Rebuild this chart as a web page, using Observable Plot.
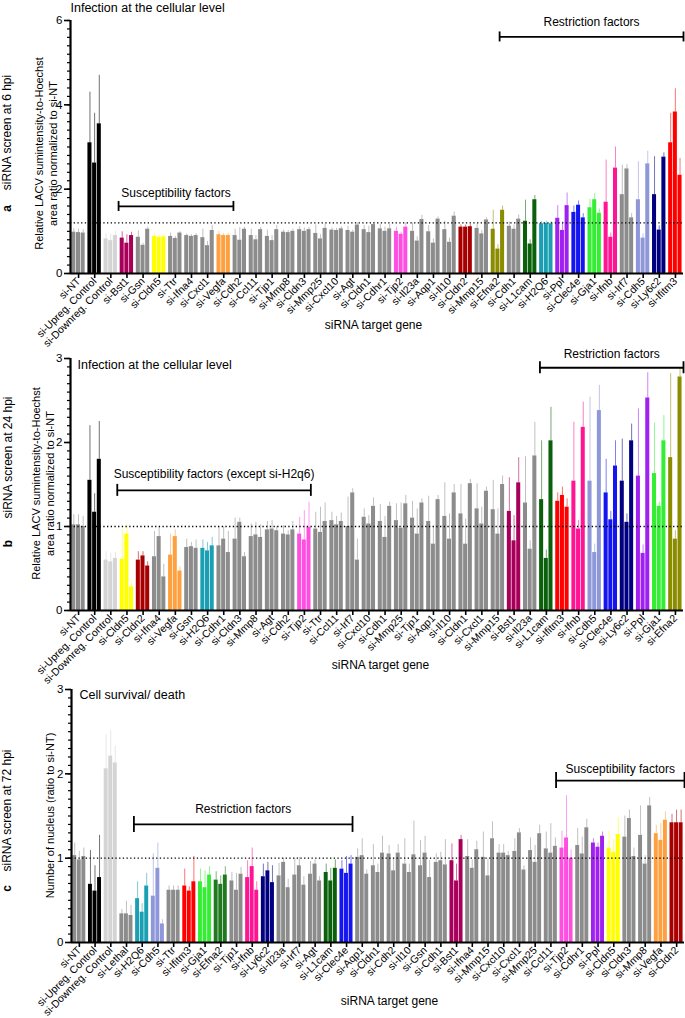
<!DOCTYPE html>
<html><head><meta charset="utf-8">
<script src="https://cdn.jsdelivr.net/npm/d3@7"></script>
<script src="https://cdn.jsdelivr.net/npm/@observablehq/plot@0.6"></script>
<style>
body{margin:0;background:#fff;}
#chart svg{display:block;}
</style></head><body><div id="chart"></div>
<script>
// ---------- Panel a: 6 hpi ----------
const genesA = ["si-NT","si-Upreg. Control","si-Downreg. Control","si-Bst1","si-Gsn","si-Cldn5","si-Ttr","si-Ifna4","si-Cxcl1","si-Vegfa","si-Cdh2","si-Ccl11","si-Tjp1","si-Mmp8","si-Cldn3","si-Mmp25","si-Cxcl10","si-Agt","si-Cldn1","si-Cdhr1","si-Tjp2","si-Il23a","si-Aqp1","si-Il10","si-Cldn2","si-Mmp15","si-Efna2","si-Cdh1","si-L1cam","si-H2Q6","si-Ppl","si-Clec4e","si-Gja1","si-Ifnb","si-Irf7","si-Cdh5","si-Ly6c2","si-Ifitm3"];
const valuesA = [[0.98,0.97,0.96],[3.1,2.62,3.55],[0.82,0.78,0.9],[0.84,0.72,0.9],[0.86,0.67,1.05],[0.88,0.86,0.87],[0.88,0.83,0.96],[0.9,0.88,0.9],[0.85,0.66,1.02],[0.92,0.9,0.9],
[0.9,0.79,1.05],[0.9,0.8,1.04],[0.88,0.78,1.04],[0.98,0.97,1.0],[1.04,1.0,1.04],[0.95,0.82,1.07],[1.03,1.02,1.06],[1.02,0.98,1.15],[1.04,0.97,1.16],[1.06,1.0,1.06],
[1.0,0.93,1.1],[1.0,0.77,1.28],[0.99,0.72,1.29],[1.04,0.74,1.36],[1.1,1.1,1.11],[1.07,0.94,1.27],[1.05,0.58,1.5],[1.12,1.05,1.29],[1.24,0.7,1.75],[1.18,1.19,1.18],
[1.31,1.02,1.61],[1.45,1.62,1.32],[1.56,1.75,1.43],[1.69,0.86,2.5],[1.87,2.48,1.32],[1.75,0.84,2.6],[1.87,1.03,2.76],[3.1,3.83,2.33]];
const sdA = [[0.08,0.08,0.08],[1.2,1.18,1.15],[0.12,0.15,0.1],[0.15,0.2,0.08],[0.15,0.05,0.05],[0.06,0.05,0.06],[0.08,0.05,0.03],[0.04,0.04,0.04],[0.2,0.1,0.12],[0.08,0.05,0.05],
[0.15,0.3,0.05],[0.15,0.1,0.05],[0.15,0.12,0.1],[0.05,0.05,0.05],[0.07,0.08,0.05],[0.2,0.1,0.1],[0.05,0.05,0.05],[0.1,0.05,0.05],[0.1,0.15,0.05],[0.1,0.1,0.1],
[0.1,0.05,0.1],[0.2,0.1,0.1],[0.15,0.1,0.05],[0.2,0.1,0.1],[0.05,0.05,0.05],[0.1,0.08,0.05],[0.45,0.1,0.1],[0.1,0.1,0.1],[0.5,0.1,0.1],[0.05,0.05,0.05],
[0.3,0.2,0.3],[0.15,0.1,0.1],[0.2,0.15,0.1],[1.0,0.1,0.5],[0.7,0.1,0.1],[0.9,0.1,0.3],[0.9,0.1,0.1],[0.7,0.55,0.4]];

// ---------- Panel b: 24 hpi ----------
const genesB = ["si-NT","si-Upreg. Control","si-Downreg. Control","si-Cldn5","si-Cldn2","si-Ifna4","si-Vegfa","si-Gsn","si-H2Q6","si-Cdhr1","si-Cldn3","si-Mmp8","si-Agt","si-Cdh2","si-Tjp2","si-Ttr","si-Ccl11","si-Irf7","si-Cxcl10","si-Cdh1","si-Mmp25","si-Tjp1","si-Aqp1","si-Il10","si-Cldn1","si-Cxcl1","si-Mmp15","si-Bst1","si-Il23a","si-L1cam","si-Ifitm3","si-Ifnb","si-Cdh5","si-Clec4e","si-Ly6c2","si-Ppl","si-Gja1","si-Efna2"];
const valuesB = [[1.02,1.02,1.0],[1.55,1.17,1.8],[0.6,0.58,0.62],[0.61,0.91,0.28],[0.6,0.65,0.53],[0.64,0.88,0.4],[0.66,0.88,0.47],[0.75,0.76,0.74],[0.74,0.71,0.77],[0.77,0.85,0.69],
[0.85,1.05,0.64],[0.88,0.9,0.87],[0.96,0.97,0.95],[0.91,0.9,0.96],[0.91,0.84,0.99],[0.97,0.93,1.06],[1.07,1.02,1.06],[1.0,1.4,0.6],[1.11,1.03,1.24],[1.06,0.87,1.24],
[1.07,0.98,1.27],[1.1,0.91,1.28],[1.06,0.79,1.32],[1.12,0.85,1.4],[1.15,0.79,1.51],[1.21,1.03,1.42],[1.2,0.91,1.5],[1.18,0.83,1.52],[1.28,0.73,1.84],[1.32,0.62,2.02],
[1.3,1.37,1.23],[1.54,0.97,2.18],[1.54,0.69,2.38],[1.4,1.08,1.72],[1.54,1.05,2.02],[1.6,0.68,2.53],[1.63,1.24,2.02],[1.82,0.85,2.78]];
const sdB = [[0.12,0.12,0.12],[0.65,0.22,0.45],[0.1,0.1,0.07],[0.35,0.1,0.05],[0.1,0.05,0.05],[0.3,0.12,0.15],[0.25,0.08,0.05],[0.1,0.05,0.1],[0.1,0.1,0.1],[0.22,0.15,0.25],
[0.25,0.05,0.05],[0.15,0.15,0.15],[0.1,0.1,0.05],[0.1,0.05,0.1],[0.2,0.35,0.3],[0.2,0.3,0.22],[0.1,0.1,0.1],[0.35,0.05,0.25],[0.1,0.1,0.1],[0.2,0.25,0.05],
[0.2,0.3,0.1],[0.2,0.3,0.05],[0.3,0.2,0.05],[0.4,0.3,0.1],[0.35,0.3,0.05],[0.3,0.2,0.05],[0.35,0.3,0.1],[0.4,0.3,0.3],[0.55,0.1,0.4],[0.7,0.1,0.4],
[0.1,0.1,0.1],[0.7,0.1,0.3],[1.0,0.1,0.3],[0.4,0.1,0.3],[0.5,0.1,0.2],[0.8,0.1,0.3],[0.6,0.05,0.3],[1.0,0.1,0.1]];

// ---------- Panel c: 72 hpi ----------
const genesC = ["si-NT","si-Upreg. Control","si-Downreg. Control","si-Lethal","si-H2Q6","si-Cdh5","si-Ttr","si-Ifitm3","si-Gja1","si-Efna2","si-Tjp1","si-Ifnb","si-Ly6c2","si-Il23a","si-Irf7","si-Agt","si-L1cam","si-Clec4e","si-Aqp1","si-Cldn1","si-Cdh2","si-Il10","si-Gsn","si-Cdh1","si-Bst1","si-Ifna4","si-Mmp15","si-Cxcl10","si-Cxcl1","si-Mmp25","si-Ccl11","si-Tjp2","si-Cdhr1","si-Ppl","si-Cldn5","si-Cldn3","si-Mmp8","si-Vegfa","si-Cldn2"];
const valuesC = [[1.03,0.98,1.02],[0.69,0.61,0.77],[2.06,2.21,2.13],[0.34,0.34,0.32],[0.52,0.36,0.67],[0.55,0.88,0.22],[0.62,0.62,0.62],[0.67,0.61,0.72],[0.72,0.65,0.8],[0.74,0.69,0.8],
[0.73,0.62,0.81],[0.77,0.9,0.62],[0.78,0.85,0.71],[0.79,0.95,0.65],[0.8,0.91,0.68],[0.81,0.93,0.73],[0.83,0.73,0.88],[0.87,0.82,0.93],[1.01,1.03,0.81],[0.91,0.83,1.06],
[1.05,0.85,1.06],[0.93,0.83,1.04],[0.91,1.06,0.77],[0.95,0.97,0.92],[0.97,0.73,1.22],[1.02,0.88,1.1],[1.01,0.79,1.23],[1.06,1.06,1.03],[1.08,1.3,0.86],[1.09,0.95,1.29],
[1.11,1.06,1.14],[1.12,1.24,1.0],[1.15,1.05,1.36],[1.18,1.13,1.26],[1.12,1.07,1.28],[1.25,1.47,1.02],[1.27,0.93,1.62],[1.29,1.21,1.45],[1.42,1.42,1.42]];
const sdC = [[0.15,0.1,0.1],[0.4,0.3,0.5],[0.4,0.3,0.2],[0.05,0.15,0.12],[0.2,0.1,0.15],[0.5,0.3,0.05],[0.05,0.05,0.05],[0.2,0.05,0.3],[0.15,0.2,0.1],[0.1,0.1,0.1],
[0.1,0.2,0.08],[0.2,0.22,0.1],[0.15,0.1,0.2],[0.15,0.05,0.1],[0.2,0.1,0.1],[0.15,0.05,0.05],[0.1,0.15,0.1],[0.1,0.2,0.1],[0.1,0.2,0.05],[0.25,0.1,0.2],
[0.1,0.15,0.1],[0.3,0.1,0.4],[0.3,0.2,0.2],[0.1,0.1,0.3],[0.2,0.2,0.05],[0.2,0.1,0.1],[0.3,0.2,0.2],[0.1,0.1,0.05],[0.15,0.05,0.05],[0.15,0.2,0.1],
[0.2,0.35,0.1],[0.2,0.5,0.1],[0.2,0.2,0.1],[0.05,0.05,0.05],[0.2,0.15,0.2],[0.25,0.1,0.1],[0.35,0.1,0.1],[0.1,0.2,0.1],[0.1,0.15,0.15]];

// ---------- styles ----------
const GRAY = "#8c8c8c";
const geneColors = {"si-Upreg. Control":"#000000","si-Downreg. Control":"#d4d4d4","si-Bst1":"#a8005a","si-Cldn5":"#ffff00","si-Vegfa":"#ffa040","si-Tjp2":"#ff4fe0","si-Cldn2":"#a80000","si-Efna2":"#8c8c00","si-L1cam":"#0b610b","si-H2Q6":"#1b9fb3","si-Ppl":"#a020f0","si-Clec4e":"#1515f0","si-Gja1":"#33ee33","si-Ifnb":"#ff1493","si-Cdh5":"#8e98d8","si-Ly6c2":"#000080","si-Ifitm3":"#ff0000"};
const geneColorsC = Object.assign({}, geneColors, {"si-Efna2":"#1f7a1f"});
const FONT = "'Liberation Sans', Arial, sans-serif";

function panel(cfg) {
  const {genes, values, sds, palette, height, marginTop, marginBottom, marginLeft, marginRight,
    ymax, majorStep, minorStep, refY, brackets, tickHalfPx, title, titlePos, yLabel, yLabelPos,
    outer, outerPos, letter, letterPos, xLabelPos} = cfg;
  const n = genes.length;
  const rows = [];
  genes.forEach((g, i) => values[i].forEach((v, r) => {
    const x1 = i + 0.08 + r * 0.29;
    const c = palette[g] || GRAY;
    rows.push({gene: g, v, sd: sds[i][r], x1, x2: x1 + 0.25, xc: x1 + 0.125, fill: c,
      err: d3.interpolateRgb(c, "#ffffff")(0.45)});
  }));
  const ppu = (height - marginTop - marginBottom) / ymax;
  const th = tickHalfPx / ppu;
  const ends = brackets.flatMap(b => [{x: b.x1, y: b.y}, {x: b.x2, y: b.y}]);
  const absText = (txt, pos, opts) => Plot.text([txt], Object.assign({
    frameAnchor: "top-left", dx: pos[0] - marginLeft, dy: pos[1] - marginTop, fill: "black",
    textAnchor: "middle", lineAnchor: "middle"}, opts));
  return Plot.plot({
    width: 685, height, marginTop, marginBottom, marginLeft, marginRight,
    style: {fontFamily: FONT, background: "white", overflow: "visible"},
    x: {domain: [0, n]},
    y: {domain: [0, ymax]},
    marks: [
      Plot.ruleX(rows, {x: "xc", y1: "v", y2: d => d.v + d.sd, stroke: d => d.err, strokeWidth: 1}),
      Plot.rectY(rows, {x1: "x1", x2: "x2", y: "v", fill: d => d.fill}),
      Plot.ruleY([refY], {stroke: "black", strokeWidth: 1.3, strokeDasharray: "1.3,2.4"}),
      Plot.axisY({ticks: d3.range(0, ymax + 1e-9, minorStep), tickSize: 3, tickFormat: () => "", strokeWidth: 1.2, label: null}),
      Plot.axisY({ticks: d3.range(0, ymax + 1e-9, majorStep), tickSize: 6, tickPadding: 2, fontSize: 11.5, strokeWidth: 1.6,
        tickFormat: d3.format("d"), label: null, fill: "black"}),
      Plot.axisX({ticks: d3.range(n).map(i => i + 0.5), tickFormat: t => genes[Math.floor(t)], tickRotate: -45,
        tickSize: 5, tickPadding: 1, fontSize: 10.5, strokeWidth: 1.6, label: null, fill: "black"}),
      Plot.ruleX([0], {stroke: "black", strokeWidth: 2.2}),
      Plot.ruleY([0], {stroke: "black", strokeWidth: 2.2}),
      Plot.ruleY(brackets, {y: "y", x1: "x1", x2: "x2", stroke: "black", strokeWidth: 1.8}),
      Plot.ruleX(ends, {x: "x", y1: d => d.y - th, y2: d => d.y + th, stroke: "black", strokeWidth: 1.8}),
      Plot.text(brackets, {x: d => (d.x1 + d.x2) / 2, y: "ty", text: "label", fontSize: 12, fill: "black"}),
      absText(title, titlePos, {textAnchor: "start", fontSize: 12.5}),
      absText(yLabel, yLabelPos, {rotate: -90, fontSize: 11, lineHeight: 1.25}),
      absText(outer, outerPos, {rotate: -90, fontSize: 12}),
      absText(letter, letterPos, {rotate: -90, fontSize: 12, fontWeight: "bold"}),
      absText("siRNA target gene", xLabelPos, {fontSize: 12})
    ]
  });
}

const chart = document.getElementById("chart");
chart.append(panel({
  genes: genesA, values: valuesA, sds: sdA, palette: geneColors,
  height: 335, marginTop: 20, marginBottom: 62, marginLeft: 70, marginRight: 2,
  ymax: 6, majorStep: 2, minorStep: 0.2, refY: 1.2, tickHalfPx: 5,
  brackets: [{label: "Susceptibility factors", x1: 2.98, x2: 10.1, y: 1.59, ty: 1.9},
             {label: "Restriction factors", x1: 26.6, x2: 38, y: 5.61, ty: 5.95}],
  title: "Infection at the cellular level", titlePos: [70, 7],
  yLabel: "Relative LACV sumintensity-to-Hoechst\narea ratio normalized to si-NT", yLabelPos: [45, 153],
  outer: "siRNA screen at 6 hpi", outerPos: [7, 132], letter: "a", letterPos: [7, 208],
  xLabelPos: [373, 325]
}));
chart.append(panel({
  genes: genesB, values: valuesB, sds: sdB, palette: geneColors,
  height: 335, marginTop: 23, marginBottom: 60, marginLeft: 70, marginRight: 2,
  ymax: 3, majorStep: 1, minorStep: 0.1, refY: 1, tickHalfPx: 6,
  brackets: [{label: "Susceptibility factors (except si-H2q6)", x1: 2.9, x2: 14.9, y: 1.43, ty: 1.62},
             {label: "Restriction factors", x1: 29.1, x2: 38, y: 2.89, ty: 3.05}],
  title: "Infection at the cellular level", titlePos: [77, 29],
  yLabel: "Relative LACV sumintensity-to-Hoechst\narea ratio normalized to si-NT", yLabelPos: [42, 148],
  outer: "siRNA screen at 24 hpi", outerPos: [8, 122], letter: "b", letterPos: [8, 208],
  xLabelPos: [380, 330]
}));
chart.append(panel({
  genes: genesC, values: valuesC, sds: sdC, palette: geneColorsC,
  height: 348, marginTop: 19, marginBottom: 76, marginLeft: 71, marginRight: 1,
  ymax: 3, majorStep: 1, minorStep: 0.1, refY: 1, tickHalfPx: 8,
  brackets: [{label: "Restriction factors", x1: 3.97, x2: 17.88, y: 1.4, ty: 1.58},
             {label: "Susceptibility factors", x1: 30.83, x2: 39, y: 1.92, ty: 2.05}],
  title: "Cell survival/ death", titlePos: [79, 24],
  yLabel: "Number of nucleus (ratio to si-NT)", yLabelPos: [49, 145],
  outer: "siRNA screen at 72 hpi", outerPos: [7, 140], letter: "c", letterPos: [7, 218],
  xLabelPos: [389, 331]
}));
</script></body></html>
